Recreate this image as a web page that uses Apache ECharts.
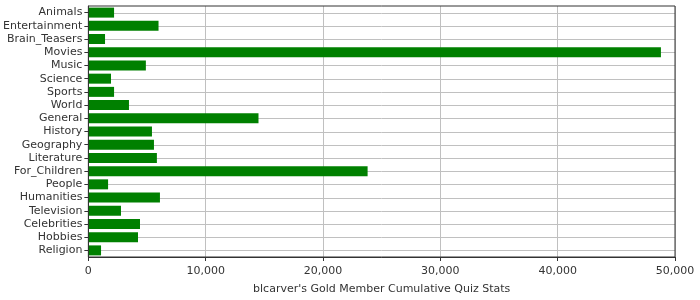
<!DOCTYPE html>
<html><head><meta charset="utf-8">
<script src="https://cdn.jsdelivr.net/npm/echarts@6/dist/echarts.min.js"></script>
<style>html,body{margin:0;padding:0;background:#fff}#c{width:700px;height:300px}</style>
</head><body><div id="c"></div>
<script>
const categories = ["Animals","Entertainment","Brain_Teasers","Movies","Music","Science","Sports","World","General","History","Geography","Literature","For_Children","People","Humanities","Television","Celebrities","Hobbies","Religion"];
const values = [2190,5980,1420,48800,4900,1930,2190,3460,14500,5420,5590,5840,23800,1680,6100,2780,4400,4230,1080];
const xTicks = [0,10000,20000,30000,40000,50000];
const axisTitle = "blcarver's Gold Member Cumulative Quiz Stats";

const chart = echarts.init(document.getElementById('c'), null, {renderer:'canvas'});
const font = "DejaVu Sans";
chart.setOption({
  animation:false,
  backgroundColor:'#fff',
  grid:{left:87,right:25,top:6,bottom:41,show:true,borderColor:'#333',borderWidth:1,backgroundColor:'transparent',z:5},
  xAxis:{
    type:'value', min:xTicks[0], max:xTicks[xTicks.length-1], interval:10000,
    name:axisTitle, nameLocation:'middle', nameGap:27,
    nameTextStyle:{fontFamily:font,fontSize:11,color:'#333'},
    axisLine:{show:true,lineStyle:{color:'#333',width:1}},
    axisTick:{show:true,length:4,lineStyle:{color:'#333'}},
    axisLabel:{fontFamily:font,fontSize:11,color:'#333',margin:9,
      formatter:v=>v.toLocaleString('en-US')},
    splitLine:{show:true,lineStyle:{color:'#c0c0c0',width:1}}
  },
  yAxis:{
    type:'category', data:categories, inverse:true,
    axisLine:{show:true,lineStyle:{color:'#333',width:1}},
    axisTick:{show:true,length:4,alignWithLabel:true,lineStyle:{color:'#333'}},
    axisLabel:{fontFamily:font,fontSize:11,color:'#333',margin:6,interval:0},
    splitLine:{show:false}
  },
  series:[
    {type:'custom', silent:true, z:1,
     data:categories.map((c,i)=>[0,i]),
     encode:{x:0,y:1},
     renderItem:function(params, api){
       const cs = params.coordSys;
       const y = Math.round(api.coord([0, api.value(1)])[1]) + 0.5;
       return {type:'line', shape:{x1:cs.x, y1:y, x2:cs.x+cs.width, y2:y},
               style:{stroke:'#c0c0c0', lineWidth:1}};
     }},
    {type:'bar', data:values, barWidth:10, itemStyle:{color:'#008000'}, silent:true, z:2}
  ]
});
</script></body></html>
